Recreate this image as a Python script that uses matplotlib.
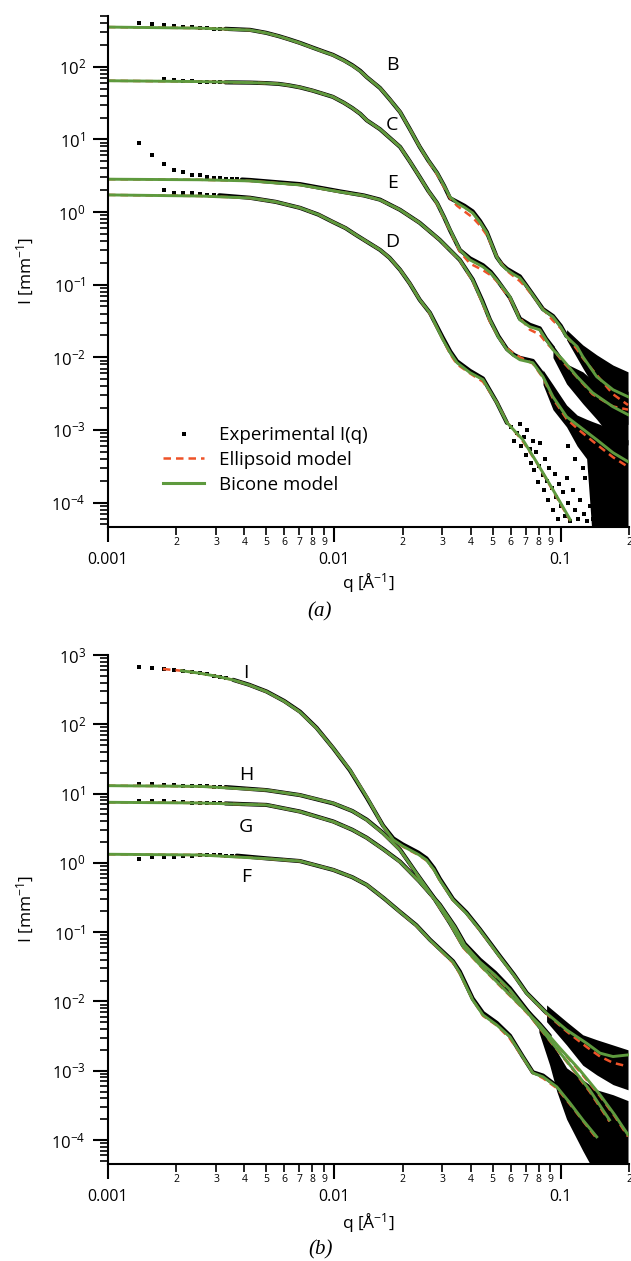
import numpy as np
import matplotlib
matplotlib.use('Agg')
import matplotlib.pyplot as plt
from matplotlib.ticker import FixedLocator, FuncFormatter, LogLocator, NullFormatter

plt.rcParams['font.family'] = ['Open Sans', 'DejaVu Sans']
plt.rcParams['mathtext.default'] = 'regular'

GREEN = '#5e9a3e'
RED = '#ee5228'

# ---------------- panel (a) ----------------
# bicone / ellipsoid fits
q_B_fit = [0.00100, 0.00255, 0.00424, 0.00500, 0.00570, 0.00630, 0.00705, 0.00800, 0.00900, 0.00984,
           0.0110, 0.0120, 0.0130, 0.0139, 0.0159, 0.0175, 0.0195, 0.0215, 0.0238, 0.0260,
           0.0284, 0.0305, 0.0324, 0.0348, 0.0375, 0.0408, 0.0440, 0.0471, 0.0521, 0.0550,
           0.0578, 0.0620, 0.0659, 0.0700, 0.0752, 0.0834, 0.0880, 0.0923, 0.100, 0.106,
           0.118, 0.125, 0.144, 0.170, 0.198]
I_B_bic = [352, 340, 320, 292, 262, 238, 212, 183, 160, 145,
           122, 104, 87, 72, 51, 36, 23.8, 14, 7.9, 5.1,
           3.45, 2.3, 1.61, 1.33, 1.16, 0.97, 0.72, 0.52, 0.24, 0.185,
           0.16, 0.138, 0.124, 0.098, 0.072, 0.045, 0.040, 0.036, 0.026, 0.0191,
           0.0140, 0.0102, 0.0054, 0.00357, 0.00286]
I_B_ell = [352, 340, 320, 292, 262, 238, 212, 183, 160, 145,
           122, 104, 87, 72, 51, 36, 23.8, 14, 7.9, 5.0,
           3.3, 2.2, 1.55, 1.22, 1.02, 0.84, 0.65, 0.48, 0.245, 0.19,
           0.155, 0.13, 0.112, 0.092, 0.070, 0.046, 0.038, 0.032, 0.025, 0.0195,
           0.0128, 0.0098, 0.0057, 0.0031, 0.0022]

q_C_fit = [0.00100, 0.00255, 0.00424, 0.00500, 0.00570, 0.00630, 0.00705, 0.00800, 0.00900, 0.00984,
           0.0110, 0.0120, 0.0130, 0.0139, 0.0159, 0.0175, 0.0195, 0.0215, 0.0238, 0.0260,
           0.0284, 0.0305, 0.0324, 0.0358, 0.0397, 0.0453, 0.0490, 0.0521, 0.0596, 0.0659,
           0.0729, 0.0807, 0.0860, 0.0923, 0.102, 0.118, 0.138, 0.170, 0.198]
I_C_bic = [64.2, 62.5, 60.5, 59.5, 58, 55.5, 52, 47, 42, 38.5,
           32, 27, 22.5, 18.3, 13.8, 10.6, 7.87, 5.0, 3.04, 1.95,
           1.33, 0.85, 0.568, 0.301, 0.219, 0.176, 0.145, 0.116, 0.068, 0.0328,
           0.0263, 0.0239, 0.0175, 0.0127, 0.00925, 0.0054, 0.00325, 0.00208, 0.00162]
I_C_ell = [64.2, 62.5, 60.5, 59.5, 58, 55.5, 52, 47, 42, 38.5,
           32, 27, 22.5, 18.3, 13.8, 10.6, 7.87, 5.0, 3.04, 1.93,
           1.30, 0.82, 0.55, 0.285, 0.195, 0.158, 0.135, 0.112, 0.064, 0.035,
           0.024, 0.0205, 0.016, 0.0128, 0.0087, 0.0053, 0.0031, 0.0021, 0.0019]

q_E_fit = [0.00100, 0.00255, 0.00424, 0.00705, 0.0106, 0.0135, 0.0159, 0.0195, 0.0238, 0.0292,
           0.0358, 0.0408, 0.0450, 0.0486, 0.0530, 0.0578, 0.0620, 0.0659, 0.0752, 0.0834,
           0.0923, 0.106, 0.121, 0.144, 0.170, 0.198]
I_E_bic = [2.83, 2.78, 2.68, 2.36, 1.89, 1.68, 1.47, 1.07, 0.708, 0.413,
           0.219, 0.116, 0.058, 0.0328, 0.019, 0.0127, 0.0105, 0.00925, 0.00841, 0.0054,
           0.00286, 0.00152, 0.00111, 0.000733, 0.000485, 0.000365]
I_E_ell = [2.83, 2.78, 2.68, 2.36, 1.89, 1.68, 1.47, 1.07, 0.708, 0.41,
           0.215, 0.112, 0.056, 0.031, 0.019, 0.0132, 0.0112, 0.0100, 0.0082, 0.0052,
           0.0027, 0.00142, 0.00098, 0.00063, 0.00042, 0.00031]

q_D_fit = [0.00100, 0.00255, 0.00424, 0.00550, 0.00705, 0.00850, 0.00984, 0.0112, 0.0125, 0.0140,
           0.0159, 0.0175, 0.0195, 0.0215, 0.0238, 0.0264, 0.0300, 0.0325, 0.0348, 0.0397,
           0.0453, 0.0521, 0.0578, 0.0679, 0.0784, 0.0923, 0.110]
I_D_bic = [1.72, 1.66, 1.56, 1.38, 1.14, 0.92, 0.73, 0.60, 0.48, 0.385,
           0.301, 0.235, 0.16, 0.104, 0.0619, 0.0409, 0.018, 0.0115, 0.00841, 0.00614,
           0.00492, 0.00238, 0.00126, 0.000733, 0.000354, 0.000150, 5.8e-5]
I_D_ell = [1.72, 1.66, 1.56, 1.38, 1.14, 0.92, 0.73, 0.60, 0.48, 0.385,
           0.301, 0.235, 0.16, 0.104, 0.0619, 0.040, 0.018, 0.011, 0.0080, 0.0060,
           0.0046, 0.0024, 0.00128, 0.00070, 0.00035, 0.000145, 5.6e-5]

# experimental: sparse low-q points
q_B_dots = [0.00137, 0.00156, 0.00177, 0.00196, 0.00215, 0.00234, 0.00255, 0.00274, 0.00294, 0.00313]
I_B_dots = [403, 387, 378, 366, 355, 348, 344, 340, 336, 333]
q_C_dots = [0.00177, 0.00196, 0.00215, 0.00234, 0.00255, 0.00274, 0.00294, 0.00313]
I_C_dots = [68.4, 65.6, 64.2, 63.0, 62.2, 61.8, 61.5, 61.2]
q_E_dots = [0.00137, 0.00156, 0.00177, 0.00196, 0.00215, 0.00234, 0.00255, 0.00274, 0.00294, 0.00313,
            0.00333, 0.00352, 0.00372]
I_E_dots = [9.0, 6.1, 4.59, 3.83, 3.53, 3.27, 3.24, 3.07, 2.97, 2.92, 2.88, 2.85, 2.82]
q_D_dots = [0.00177, 0.00196, 0.00215, 0.00234, 0.00255, 0.00274, 0.00294]
I_D_dots = [2.01, 1.85, 1.83, 1.81, 1.76, 1.72, 1.71]

# experimental: dense mid-q traces
q_B_exp = [0.0033, 0.00424, 0.00500, 0.00570, 0.00630, 0.00705, 0.00800, 0.00900, 0.00984, 0.0110,
           0.0120, 0.0130, 0.0139, 0.0159, 0.0175, 0.0195, 0.0215, 0.0238, 0.0260, 0.0284,
           0.0305, 0.0324, 0.0348, 0.0375, 0.0408, 0.0440, 0.0471, 0.0521, 0.0550, 0.0578,
           0.0620, 0.0659, 0.0700, 0.0752, 0.0834, 0.0880, 0.0923, 0.100, 0.106]
I_B_exp = [333, 322, 293, 263, 239, 213, 184, 161, 146, 123,
           105, 88, 72, 51, 36, 23.8, 14, 7.9, 5.1, 3.45,
           2.3, 1.55, 1.38, 1.22, 1.02, 0.75, 0.53, 0.24, 0.19, 0.165,
           0.145, 0.13, 0.10, 0.073, 0.046, 0.041, 0.037, 0.027, 0.0195]
q_C_exp = [0.0033, 0.00424, 0.00500, 0.00570, 0.00630, 0.00705, 0.00800, 0.00900, 0.00984,
           0.0110, 0.0120, 0.0130, 0.0139, 0.0159, 0.0175, 0.0195, 0.0215, 0.0238, 0.0260,
           0.0284, 0.0305, 0.0324, 0.0358, 0.0397, 0.0453, 0.0490, 0.0521, 0.0596, 0.0659,
           0.0729, 0.0807, 0.0860, 0.0923]
I_C_exp = [61, 60.5, 59.5, 58, 55.5, 52, 47, 42, 38.5,
           32, 27, 22.5, 18.3, 13.8, 10.6, 7.87, 5.0, 3.04, 1.95,
           1.33, 0.85, 0.56, 0.30, 0.23, 0.185, 0.150, 0.118, 0.066, 0.034,
           0.028, 0.025, 0.018, 0.0135]
q_E_exp = [0.0039, 0.00424, 0.00705, 0.0106, 0.0135, 0.0159, 0.0195, 0.0238, 0.0292, 0.0358,
           0.0408, 0.0450, 0.0486, 0.0530, 0.0578, 0.0620, 0.0659, 0.0752, 0.0834]
I_E_exp = [2.80, 2.76, 2.42, 1.92, 1.69, 1.48, 1.07, 0.71, 0.413, 0.219,
           0.118, 0.060, 0.033, 0.0195, 0.0130, 0.0108, 0.0098, 0.0089, 0.0058]
q_D_exp = [0.0031, 0.00424, 0.00550, 0.00705, 0.00850, 0.00984, 0.0112, 0.0125, 0.0140, 0.0159,
           0.0175, 0.0195, 0.0215, 0.0238, 0.0264, 0.0300, 0.0325, 0.0348, 0.0397, 0.0453,
           0.0521, 0.0578]
I_D_exp = [1.70, 1.57, 1.38, 1.14, 0.92, 0.73, 0.60, 0.48, 0.385, 0.301,
           0.235, 0.16, 0.104, 0.0619, 0.041, 0.019, 0.012, 0.0088, 0.0065, 0.0051,
           0.0024, 0.00125]

# experimental: noisy high-q envelopes
q_B_band = [0.106, 0.125, 0.144, 0.170, 0.198]
I_B_hi = [0.024, 0.0148, 0.0108, 0.0078, 0.0063]
I_B_lo = [0.0174, 0.0071, 0.0034, 0.0019, 0.00118]
q_C_band = [0.0923, 0.106, 0.125, 0.144, 0.170, 0.198]
I_C_hi = [0.0148, 0.0081, 0.0063, 0.0043, 0.0036, 0.0034]
I_C_lo = [0.0099, 0.0043, 0.0023, 0.0014, 0.00073, 0.00062]
q_E_band = [0.0834, 0.0923, 0.106, 0.118, 0.130, 0.138, 0.150, 0.198]
I_E_hi = [0.0067, 0.0042, 0.0022, 0.0016, 0.0014, 0.0013, 0.00118, 0.00073]
I_E_lo = [0.0042, 0.0019, 0.0011, 0.0006, 0.0004, 3e-5, 3e-5, 3e-5]

# experimental: scattered high-q points of D
q_D_scat = [0.060, 0.062, 0.064, 0.066, 0.067, 0.069, 0.070, 0.071, 0.073, 0.074, 0.075, 0.076, 0.078, 0.079,
            0.080, 0.081, 0.083, 0.084, 0.085, 0.087, 0.088, 0.089, 0.091, 0.092, 0.094, 0.095, 0.097, 0.098,
            0.100, 0.102, 0.104, 0.106, 0.108, 0.110, 0.113, 0.116, 0.119, 0.122, 0.126, 0.130, 0.134, 0.138,
            0.108, 0.112, 0.115, 0.120, 0.125, 0.128, 0.132]
I_D_scat = [1.1e-3, 7e-4, 9e-4, 1.2e-3, 6e-4, 8e-4, 4.5e-4, 1.0e-3, 5.5e-4, 3.5e-4, 7e-4, 2.8e-4, 5e-4, 1.9e-4,
            3.2e-4, 6.5e-4, 2.4e-4, 1.5e-4, 4e-4, 2.0e-4, 1.1e-4, 3e-4, 1.6e-4, 8e-5, 2.5e-4, 1.2e-4, 6e-5, 1.8e-4,
            9e-5, 1.4e-4, 6.5e-5, 2.2e-4, 1.0e-4, 5.5e-5, 1.5e-4, 8e-5, 6e-5, 1.1e-4, 7e-5, 5.5e-5, 9e-5, 6e-5,
            6e-4, 1.0e-3, 4e-4, 7e-4, 3e-4, 2.2e-4, 4.5e-4]

labels_a = ['B', 'C', 'E', 'D']
label_a_q = [0.0180, 0.0180, 0.0180, 0.0180]
label_a_I = [105, 15.8, 2.54, 0.392]

# ---------------- panel (b) ----------------
q_I_fit = [0.00211, 0.00255, 0.00300, 0.00357, 0.00420, 0.00502, 0.00600, 0.00705, 0.00834, 0.00989,
           0.0117, 0.0139, 0.0164, 0.0182, 0.0200, 0.0216, 0.0235, 0.0255, 0.0275, 0.0292,
           0.0334, 0.0383, 0.0439, 0.0538, 0.0620, 0.0706, 0.0865, 0.106, 0.130, 0.149,
           0.170, 0.198]
I_I_bic = [593, 545, 495, 436, 370, 295, 215, 150, 88, 45,
           22, 8.9, 3.4, 2.15, 1.75, 1.53, 1.32, 1.10, 0.80, 0.567,
           0.292, 0.187, 0.108, 0.0439, 0.024, 0.0131, 0.00676, 0.00388, 0.00249, 0.00179,
           0.00160, 0.00169]
q_I_ell = [0.00175, 0.00211, 0.00255, 0.00300, 0.00357, 0.00420, 0.00502, 0.00600, 0.00705, 0.00834,
           0.00989, 0.0117, 0.0139, 0.0164, 0.0182, 0.0200, 0.0216, 0.0235, 0.0255, 0.0275,
           0.0292, 0.0334, 0.0383, 0.0439, 0.0538, 0.0620, 0.0706, 0.0865, 0.106, 0.130,
           0.149, 0.170, 0.198]
I_I_ell = [628, 593, 545, 495, 436, 370, 295, 215, 150, 88,
           45, 22, 8.9, 3.4, 2.12, 1.72, 1.50, 1.30, 1.08, 0.79,
           0.56, 0.29, 0.185, 0.106, 0.0435, 0.0238, 0.0130, 0.0066, 0.0037, 0.0022,
           0.0016, 0.0013, 0.00115]

q_H_fit = [0.00100, 0.00255, 0.00502, 0.00705, 0.00989, 0.0120, 0.0139, 0.0164, 0.0195, 0.0230,
           0.0272, 0.0324, 0.0370, 0.0439, 0.0538, 0.0659, 0.0807, 0.0989, 0.121, 0.149,
           0.173, 0.198]
I_H_bic = [13.0, 12.7, 11.2, 9.5, 7.24, 5.6, 4.16, 2.67, 1.53, 0.708,
           0.325, 0.134, 0.0618, 0.0337, 0.0173, 0.00891, 0.00458, 0.00213, 0.00103, 0.000448,
           0.00023, 0.000119]
I_H_ell = [13.0, 12.7, 11.2, 9.5, 7.24, 5.6, 4.16, 2.67, 1.53, 0.70,
           0.32, 0.132, 0.060, 0.033, 0.0168, 0.0087, 0.0044, 0.0021, 0.00098, 0.00043,
           0.00022, 0.000112]

q_G_fit = [0.00100, 0.00255, 0.00502, 0.00705, 0.00989, 0.0120, 0.0139, 0.0165, 0.0195, 0.0238,
           0.0292, 0.0340, 0.0376, 0.0439, 0.0512, 0.0596, 0.0729, 0.0893, 0.1096, 0.134,
           0.164]
I_G_bic = [7.48, 7.31, 6.85, 5.48, 3.93, 3.0, 2.29, 1.55, 1.03, 0.531,
           0.247, 0.119, 0.0653, 0.0372, 0.0241, 0.0147, 0.00638, 0.00278, 0.00121, 0.000528,
           0.000195]
I_G_ell = [7.48, 7.31, 6.85, 5.48, 3.93, 3.0, 2.29, 1.55, 1.03, 0.531,
           0.245, 0.116, 0.066, 0.036, 0.0235, 0.0142, 0.0062, 0.0027, 0.00118, 0.00050,
           0.000185]

q_F_fit = [0.00100, 0.00255, 0.00502, 0.00705, 0.00989, 0.0120, 0.0139, 0.0165, 0.0195, 0.0230,
           0.0264, 0.0334, 0.0358, 0.0408, 0.0453, 0.0521, 0.0596, 0.0679, 0.0752, 0.0834,
           0.0960, 0.1096, 0.125, 0.144]
I_F_bic = [1.33, 1.30, 1.15, 1.06, 0.79, 0.62, 0.48, 0.31, 0.195, 0.125,
           0.0771, 0.0372, 0.0258, 0.0105, 0.00638, 0.00458, 0.00308, 0.00158, 0.000929, 0.000814,
           0.000584, 0.000343, 0.000195, 0.000111]
I_F_ell = [1.33, 1.30, 1.15, 1.06, 0.79, 0.62, 0.48, 0.31, 0.195, 0.124,
           0.0765, 0.036, 0.025, 0.0106, 0.0062, 0.0045, 0.0029, 0.00155, 0.00093, 0.00078,
           0.00056, 0.00033, 0.00019, 0.000105]

q_I_dots = [0.00137, 0.00156, 0.00177, 0.00196, 0.00215, 0.00234, 0.00255, 0.00274, 0.00294, 0.00313, 0.00333]
I_I_dots = [678, 656, 635, 612, 590, 568, 545, 525, 504, 484, 465]
q_H_dots = [0.00137, 0.00156, 0.00177, 0.00196, 0.00215, 0.00234, 0.00255, 0.00274, 0.00294, 0.00313]
I_H_dots = [13.6, 13.6, 13.4, 13.3, 13.0, 12.9, 12.8, 12.7, 12.6, 12.5]
q_G_dots = [0.00137, 0.00156, 0.00177, 0.00196, 0.00215, 0.00234, 0.00255, 0.00274, 0.00294, 0.00313]
I_G_dots = [7.9, 7.9, 7.75, 7.6, 7.48, 7.4, 7.35, 7.3, 7.25, 7.2]
q_F_dots = [0.00137, 0.00156, 0.00177, 0.00196, 0.00215, 0.00234, 0.00255, 0.00274, 0.00294, 0.00313,
            0.00333, 0.00352]
I_F_dots = [1.14, 1.20, 1.20, 1.23, 1.26, 1.27, 1.28, 1.28, 1.28, 1.28, 1.27, 1.27]

q_I_exp = [0.00357, 0.00420, 0.00502, 0.00600, 0.00705, 0.00834, 0.00989, 0.0117, 0.0139, 0.0164,
           0.0182, 0.0200, 0.0216, 0.0235, 0.0255, 0.0275, 0.0292, 0.0334, 0.0383, 0.0439,
           0.0538, 0.0620, 0.0706, 0.0865]
I_I_exp = [438, 372, 297, 217, 152, 89, 45, 21.7, 8.7, 3.45,
           2.25, 1.85, 1.62, 1.40, 1.16, 0.84, 0.59, 0.30, 0.192, 0.110,
           0.045, 0.0245, 0.0133, 0.0068]
q_H_exp = [0.0033, 0.00502, 0.00705, 0.00989, 0.0120, 0.0139, 0.0164, 0.0195, 0.0230, 0.0272,
           0.0324, 0.0370, 0.0439, 0.0538, 0.0659, 0.0807, 0.0893]
I_H_exp = [12.4, 11.2, 9.5, 7.2, 5.6, 4.2, 2.7, 1.55, 0.71, 0.33,
           0.135, 0.064, 0.036, 0.0185, 0.0094, 0.0047, 0.0032]
q_G_exp = [0.0033, 0.00502, 0.00705, 0.00989, 0.0120, 0.0139, 0.0165, 0.0195, 0.0238, 0.0292,
           0.0340, 0.0376, 0.0439, 0.0512, 0.0596, 0.0729, 0.0893]
I_G_exp = [7.2, 6.85, 5.5, 3.95, 3.0, 2.3, 1.56, 1.04, 0.535, 0.25,
           0.121, 0.068, 0.040, 0.026, 0.0155, 0.0066, 0.0028]
q_F_exp = [0.0037, 0.00502, 0.00705, 0.00989, 0.0120, 0.0139, 0.0165, 0.0195, 0.0230, 0.0264,
           0.0334, 0.0358, 0.0408, 0.0453, 0.0521, 0.0596, 0.0679, 0.0752, 0.0834, 0.0960]
I_F_exp = [1.27, 1.16, 1.06, 0.79, 0.62, 0.48, 0.31, 0.196, 0.126, 0.078,
           0.038, 0.027, 0.0110, 0.0068, 0.0049, 0.0032, 0.0016, 0.00095, 0.00085, 0.00060]

q_I_band = [0.0865, 0.106, 0.125, 0.144, 0.170, 0.198]
I_I_hi = [0.0089, 0.0051, 0.0033, 0.0028, 0.00235, 0.0020]
I_I_lo = [0.0051, 0.00235, 0.0012, 0.00087, 0.00063, 0.00053]
q_low_band = [0.0800, 0.0893, 0.0960, 0.106, 0.125, 0.144, 0.170, 0.198]
I_low_hi = [0.0048, 0.0030, 0.0019, 0.0011, 0.00074, 0.00053, 0.00045, 0.00037]
I_low_lo = [0.0036, 0.0012, 0.00050, 0.00020, 7e-5, 3e-5, 3e-5, 3e-5]

labels_b = ['I', 'H', 'G', 'F']
label_b_q = [0.00406, 0.00406, 0.00406, 0.00406]
label_b_I = [545, 18.5, 3.34, 0.632]

# ---------------- figure ----------------
W, H = 631, 1261
fig = plt.figure(figsize=(W / 100, H / 100), dpi=100)
ax_a = fig.add_axes([108 / W, 1 - 527 / H, 521 / W, 511 / H])
ax_b = fig.add_axes([108 / W, 1 - 1164 / H, 521 / W, 509 / H])


def style_axes(ax, ylim, ymajors):
    ax.set_xscale('log')
    ax.set_yscale('log')
    ax.set_xlim(0.001, 0.2)
    ax.set_ylim(*ylim)
    for s in ['top', 'right']:
        ax.spines[s].set_visible(False)
    for s in ['left', 'bottom']:
        ax.spines[s].set_linewidth(1.5)
    ax.xaxis.set_major_locator(FixedLocator([0.001, 0.01, 0.1]))
    ax.xaxis.set_major_formatter(FuncFormatter(lambda v, p: f'{v:g}'))
    minors = [m * 10.0 ** e for e in (-3, -2, -1) for m in range(2, 10) if m * 10.0 ** e <= 0.2001]
    ax.xaxis.set_minor_locator(FixedLocator(minors))
    ax.xaxis.set_minor_formatter(
        FuncFormatter(lambda v, p: f'{int(round(v / 10 ** np.floor(np.log10(v) + 1e-9)))}'))
    ax.yaxis.set_major_locator(FixedLocator(ymajors))
    ax.yaxis.set_major_formatter(
        FuncFormatter(lambda v, p: '$10^{%d}$' % int(round(np.log10(v)))))
    ax.yaxis.set_minor_locator(LogLocator(base=10, subs=range(2, 10), numticks=20))
    ax.yaxis.set_minor_formatter(NullFormatter())
    ax.tick_params(axis='x', which='major', direction='out', length=11, width=1.5, pad=7, labelsize=11.5)
    ax.tick_params(axis='x', which='minor', direction='out', length=6, width=1.2, pad=1.5, labelsize=7.5)
    ax.tick_params(axis='y', which='major', direction='out', length=11, width=1.5, pad=5, labelsize=12)
    ax.tick_params(axis='y', which='minor', direction='out', length=6, width=1.2)


def draw_dots(ax, q, I):
    ax.plot(q, I, ls='none', marker='s', ms=2.3, color='k', mew=0)


# panel (a)
style_axes(ax_a, (4.6e-5, 500), [1e-4, 1e-3, 1e-2, 1e-1, 1, 10, 100])
for q, I in [(q_B_dots, I_B_dots), (q_C_dots, I_C_dots), (q_E_dots, I_E_dots), (q_D_dots, I_D_dots)]:
    draw_dots(ax_a, q, I)
for q, lo, hi in [(q_B_band, I_B_lo, I_B_hi), (q_C_band, I_C_lo, I_C_hi), (q_E_band, I_E_lo, I_E_hi)]:
    ax_a.fill_between(q, lo, hi, color='k', lw=0)
draw_dots(ax_a, q_D_scat, I_D_scat)
for q, I in [(q_B_exp, I_B_exp), (q_C_exp, I_C_exp), (q_E_exp, I_E_exp), (q_D_exp, I_D_exp)]:
    ax_a.plot(q, I, color='k', lw=3.0, solid_capstyle='round', solid_joinstyle='round')
for q, I in [(q_B_fit, I_B_ell), (q_C_fit, I_C_ell), (q_E_fit, I_E_ell), (q_D_fit, I_D_ell)]:
    ax_a.plot(q, I, color=RED, lw=1.8, ls=(0, (3, 2)))
for q, I in [(q_B_fit, I_B_bic), (q_C_fit, I_C_bic), (q_E_fit, I_E_bic), (q_D_fit, I_D_bic)]:
    ax_a.plot(q, I, color=GREEN, lw=2.1, solid_joinstyle='round')
for t, q, I in zip(labels_a, label_a_q, label_a_I):
    ax_a.text(q, I, t, fontsize=14, ha='center', va='center')

h_exp, = ax_a.plot([], [], ls='none', marker='s', ms=2.3, color='k', mew=0)
h_ell, = ax_a.plot([], [], color=RED, lw=1.8, ls=(0, (3, 2)))
h_bic, = ax_a.plot([], [], color=GREEN, lw=2.2)
ax_a.legend([h_exp, h_ell, h_bic], ['Experimental I(q)', 'Ellipsoid model', 'Bicone model'],
            loc='center left', bbox_to_anchor=(0.106, 0.131), frameon=False, fontsize=13.5,
            borderpad=0, borderaxespad=0, handlelength=2.2, handletextpad=0.75, labelspacing=0.35,
            numpoints=1)

# panel (b)
style_axes(ax_b, (4.5e-5, 1000), [1e-4, 1e-3, 1e-2, 1e-1, 1, 10, 100, 1000])
for q, I in [(q_I_dots, I_I_dots), (q_H_dots, I_H_dots), (q_G_dots, I_G_dots), (q_F_dots, I_F_dots)]:
    draw_dots(ax_b, q, I)
for q, lo, hi in [(q_I_band, I_I_lo, I_I_hi), (q_low_band, I_low_lo, I_low_hi)]:
    ax_b.fill_between(q, lo, hi, color='k', lw=0)
for q, I in [(q_I_exp, I_I_exp), (q_H_exp, I_H_exp), (q_G_exp, I_G_exp), (q_F_exp, I_F_exp)]:
    ax_b.plot(q, I, color='k', lw=3.0, solid_capstyle='round', solid_joinstyle='round')
for q, I in [(q_I_ell, I_I_ell), (q_H_fit, I_H_ell), (q_G_fit, I_G_ell), (q_F_fit, I_F_ell)]:
    ax_b.plot(q, I, color=RED, lw=1.8, ls=(0, (3, 2)))
for q, I in [(q_I_fit, I_I_bic), (q_H_fit, I_H_bic), (q_G_fit, I_G_bic), (q_F_fit, I_F_bic)]:
    ax_b.plot(q, I, color=GREEN, lw=2.1, solid_joinstyle='round')
for t, q, I in zip(labels_b, label_b_q, label_b_I):
    ax_b.text(q, I, t, fontsize=14, ha='center', va='center')

# axis titles and panel tags
for yc, yx in [(271, 583), (909, 1223)]:
    fig.text(25 / W, 1 - yc / H, 'I [mm$^{-1}$]', rotation=90, ha='center', va='center', fontsize=12.5)
    fig.text(368.5 / W, 1 - yx / H, 'q [Å$^{-1}$]', ha='center', va='center', fontsize=12.5)
fig.text(320 / W, 1 - 612 / H, '(a)', ha='center', va='center', fontsize=15, family='Liberation Serif',
         style='italic')
fig.text(321 / W, 1 - 1250 / H, '(b)', ha='center', va='center', fontsize=15, family='Liberation Serif',
         style='italic')

fig.savefig('out.png', dpi=100)
